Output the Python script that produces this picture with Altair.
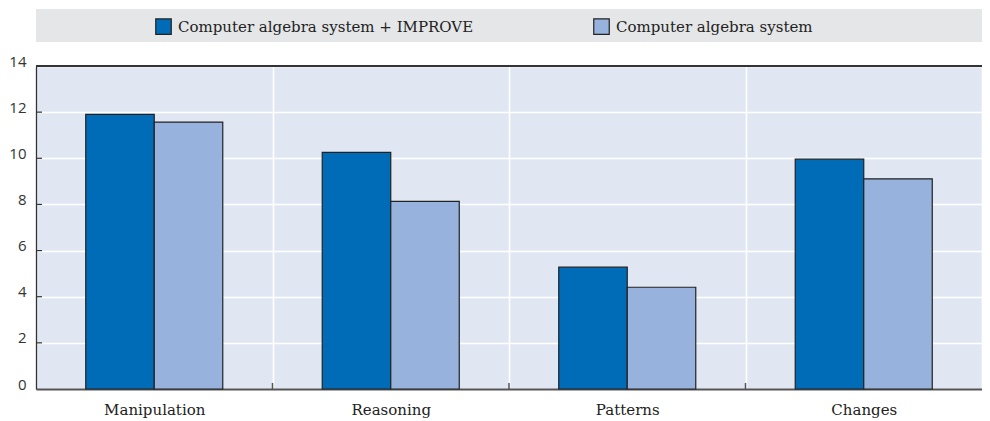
import altair as alt
import pandas as pd

categories = ["Manipulation", "Reasoning", "Patterns", "Changes"]
series_names = ["Computer algebra system + IMPROVE", "Computer algebra system"]
cas_improve = [11.9, 10.26, 5.28, 9.96]
cas_only = [11.57, 8.13, 4.41, 9.11]
y_ticks = [0, 2, 4, 6, 8, 10, 12, 14]

rows = []
for c, a, b in zip(categories, cas_improve, cas_only):
    rows.append({"category": c, "series": series_names[0], "value": a})
    rows.append({"category": c, "series": series_names[1], "value": b})
df = pd.DataFrame(rows)

W, H = 946, 323
SERIF = "DejaVu Serif"
SANS = "Open Sans"

x_enc = alt.X(
    "category:N",
    sort=categories,
    title=None,
    scale=alt.Scale(paddingInner=0, paddingOuter=0),
    axis=alt.Axis(
        labelAngle=0,
        labelFont=SERIF,
        labelFontSize=15,
        labelColor="#222",
        labelPadding=13,
        ticks=False,
        tickBand="extent",
        grid=True,
        gridColor="white",
        gridWidth=1.5,
        domainColor="#555",
        domainWidth=1.8,
    ),
)
y_scale = alt.Scale(domain=[0, 14], nice=False, zero=True)

bars = (
    alt.Chart(df)
    .mark_bar(stroke="#222", strokeWidth=1.2)
    .encode(
        x=x_enc,
        xOffset=alt.XOffset(
            "series:N",
            sort=series_names,
            scale=alt.Scale(paddingInner=0, paddingOuter=0.726),
        ),
        y=alt.Y(
            "value:Q",
            title=None,
            scale=y_scale,
            axis=alt.Axis(
                values=y_ticks,
                labelFont=SANS,
                labelFontSize=15,
                labelColor="#333",
                labelPadding=10,
                labelOffset=-5,
                ticks=False,
                domain=True,
                domainColor="#333",
                domainWidth=1.3,
                grid=True,
                gridColor="white",
                gridWidth=1.5,
            ),
        ),
        color=alt.Color(
            "series:N",
            sort=series_names,
            scale=alt.Scale(domain=series_names, range=["#006BB6", "#97B2DC"]),
            legend=alt.Legend(
                title=None,
                orient="none",
                legendX=119,
                legendY=-48,
                direction="horizontal",
                symbolType="square",
                symbolSize=240,
                symbolStrokeColor="#222",
                symbolStrokeWidth=1.2,
                symbolOpacity=1,
                labelFont=SERIF,
                labelFontSize=15,
                labelColor="#222",
                labelOffset=6,
                labelLimit=0,
                columnPadding=117,
                padding=0,
            ),
        ),
    )
)

band_df = pd.DataFrame({"k": [0]})
legend_band = (
    alt.Chart(band_df)
    .mark_rect(color="#E5E6E8")
    .encode(
        x=alt.value(0),
        x2=alt.value(W + 10),
        y=alt.value(-57),
        y2=alt.value(-24),
    )
)

top_border = (
    alt.Chart(band_df)
    .mark_rule(color="#333", strokeWidth=1.8)
    .encode(x=alt.value(0), x2=alt.value(W + 10), y=alt.value(0))
)

ytick_df = pd.DataFrame({"v": y_ticks[1:-1]})
y_tick_marks = (
    alt.Chart(ytick_df)
    .mark_rule(color="#333", strokeWidth=1.2)
    .encode(y=alt.Y("v:Q", scale=y_scale), x=alt.value(0), x2=alt.value(6))
)

xtick_df = pd.DataFrame({"category": categories[1:]})
x_tick_marks = (
    alt.Chart(xtick_df)
    .mark_rule(color="#555", strokeWidth=1.5)
    .encode(
        x=alt.X("category:N", sort=categories, bandPosition=0),
        y=alt.value(H - 6),
        y2=alt.value(H),
    )
)

chart = (
    alt.layer(legend_band, bars, y_tick_marks, x_tick_marks, top_border)
    .properties(
        width=W,
        height=H,
        autosize=alt.AutoSizeParams(type="none"),
        padding={"left": 28, "top": 58, "right": 0, "bottom": 32},
        background="white",
    )
    .configure_view(fill="#E0E7F3", strokeOpacity=0)
)

chart.save("out.html", embed_options={"renderer": "svg", "actions": False})
